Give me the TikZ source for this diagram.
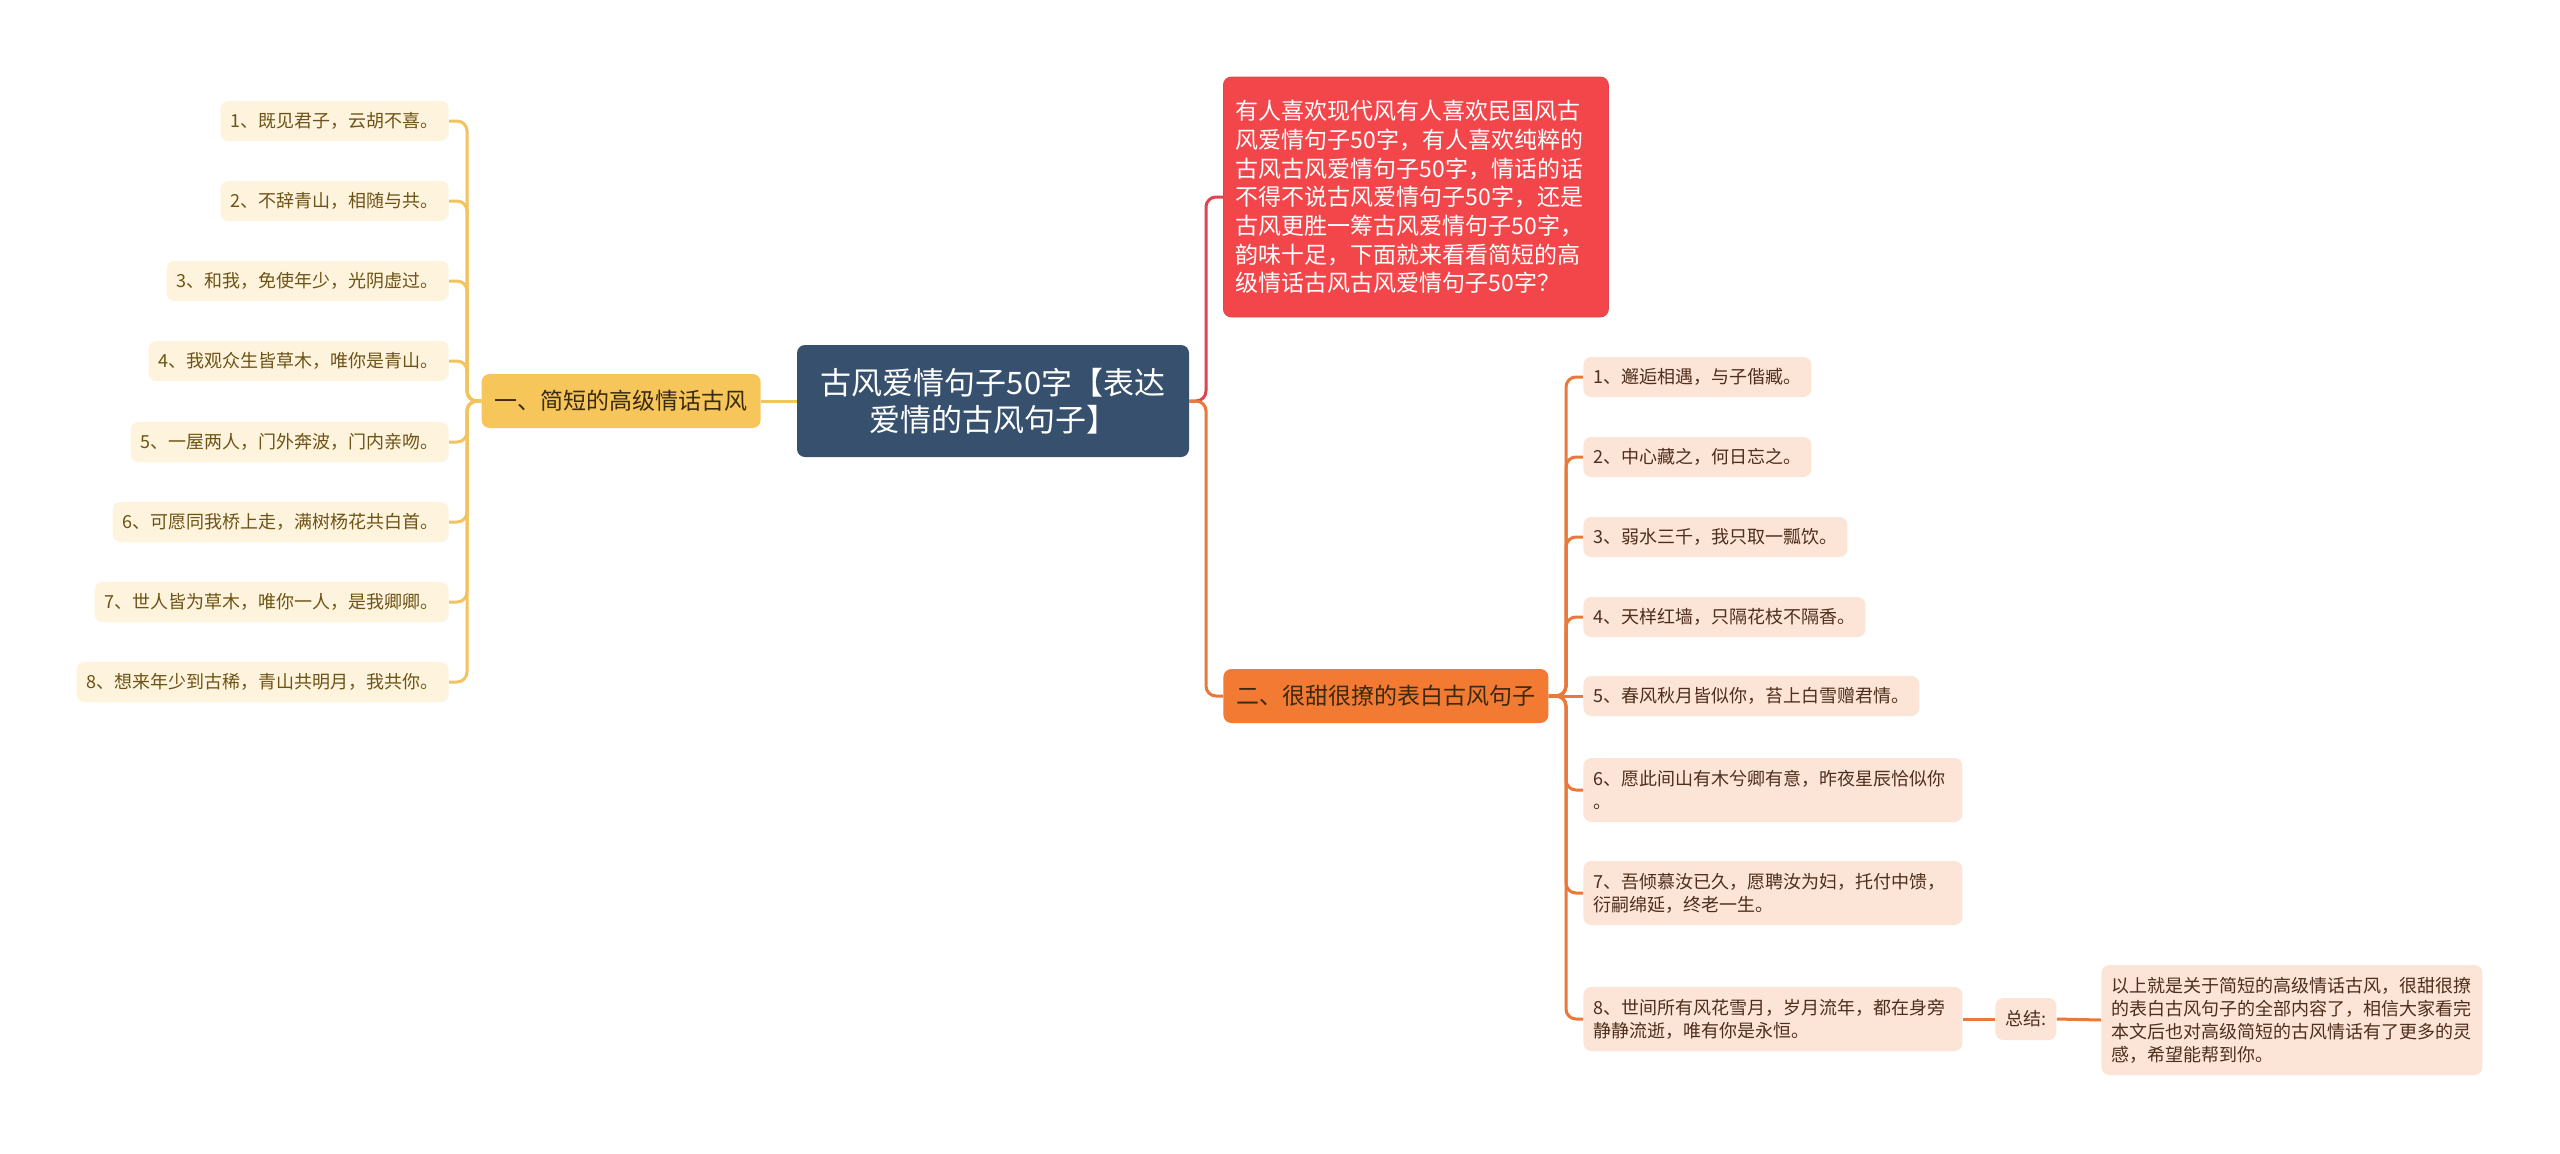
\documentclass[tikz,border=0pt]{standalone}
\usepackage{fontspec}
\setmainfont{Noto Sans CJK SC}
\definecolor{rootfill}{HTML}{37506D}
\definecolor{yfill}{HTML}{F6C65A}
\definecolor{ylinec}{HTML}{F2C35E}
\definecolor{yitem}{HTML}{FEF3DC}
\definecolor{ytext}{HTML}{6E5316}
\definecolor{redfill}{HTML}{F3464B}
\definecolor{redline}{HTML}{DE4550}
\definecolor{ofill}{HTML}{F27A33}
\definecolor{olinec}{HTML}{E9783A}
\definecolor{oitem}{HTML}{FCE4D6}
\definecolor{otext}{HTML}{4E2E1C}
\definecolor{btext}{HTML}{3A2A10}
\tikzset{
  box/.style={rounded corners=4pt, inner sep=0pt},
  small/.style={font=\fontsize{9}{11.5}\selectfont},
  rootbox/.style={box, fill=rootfill, text=white, align=center,
    minimum width=196pt, minimum height=56pt, font=\fontsize{15.5}{18.75}\selectfont},
  descbox/.style={box, fill=redfill, draw=redline, text=white, align=left, text width=180pt,
    inner xsep=6.25pt, minimum height=120pt, font=\fontsize{11.5}{14.35}\selectfont},
  ybranch/.style={box, fill=yfill, text=btext, inner xsep=6.5pt, minimum height=27pt,
    font=\fontsize{11.5}{14}\selectfont},
  obranch/.style={box, fill=ofill, text=btext, inner xsep=6.5pt, minimum height=27pt,
    font=\fontsize{11.5}{14}\selectfont},
  litem/.style={box, small, fill=yitem, text=ytext, inner xsep=5pt, minimum height=20pt},
  ritem/.style={box, small, fill=oitem, text=otext, inner xsep=5pt, minimum height=20pt},
  ritemw/.style={ritem, align=left, text width=179.5pt, minimum height=32pt},
  sumbox/.style={ritem, align=left, text width=180pt, inner xsep=5.25pt, minimum height=55pt},
  yconn/.style={draw=ylinec, line width=1.5pt, rounded corners=5pt},
  oconn/.style={draw=olinec, line width=1.5pt, rounded corners=5pt},
  rconn/.style={draw=redline, line width=1.5pt, rounded corners=5pt},
}
\begin{document}
\begin{tikzpicture}[x=0.5pt,y=-0.5pt]
\fill[white] (0,0) rectangle (2560,1153);
\useasboundingbox (0,0) rectangle (2560,1153);

% junction coordinates
\coordinate (lb) at (467,0);
\coordinate (rbx) at (1206,0);
\coordinate (ob) at (1566,0);

% root
\node[rootbox] (root) at (993,401) {古风爱情句子50字【表达\\爱情的古风句子】};

% left branch
\node[ybranch, anchor=east] (b1) at (761,401) {一、简短的高级情话古风};
\node[litem, anchor=east] (l1) at (449,121) {1、既见君子，云胡不喜。};
\node[litem, anchor=east] (l2) at (449,201) {2、不辞青山，相随与共。};
\node[litem, anchor=east] (l3) at (449,281) {3、和我，免使年少，光阴虚过。};
\node[litem, anchor=east] (l4) at (449,361) {4、我观众生皆草木，唯你是青山。};
\node[litem, anchor=east] (l5) at (449,442) {5、一屋两人，门外奔波，门内亲吻。};
\node[litem, anchor=east] (l6) at (449,522) {6、可愿同我桥上走，满树杨花共白首。};
\node[litem, anchor=east] (l7) at (449,602) {7、世人皆为草木，唯你一人，是我卿卿。};
\node[litem, anchor=east] (l8) at (449,682) {8、想来年少到古稀，青山共明月，我共你。};

% description
\node[descbox, anchor=west] (desc) at (1223,197) {有人喜欢现代风有人喜欢民国风古\\风爱情句子50字，有人喜欢纯粹的\\古风古风爱情句子50字，情话的话\\不得不说古风爱情句子50字，还是\\古风更胜一筹古风爱情句子50字，\\韵味十足，下面就来看看简短的高\\级情话古风古风爱情句子50字？};

% right branch
\node[obranch, anchor=west] (b2) at (1223,696) {二、很甜很撩的表白古风句子};
\node[ritem, anchor=west] (r1) at (1583,377) {1、邂逅相遇，与子偕臧。};
\node[ritem, anchor=west] (r2) at (1583,457) {2、中心藏之，何日忘之。};
\node[ritem, anchor=west] (r3) at (1583,537) {3、弱水三千，我只取一瓢饮。};
\node[ritem, anchor=west] (r4) at (1583,617) {4、天样红墙，只隔花枝不隔香。};
\node[ritem, anchor=west] (r5) at (1583,696) {5、春风秋月皆似你，苔上白雪赠君情。};
\node[ritemw, anchor=west] (r6) at (1583,790) {6、愿此间山有木兮卿有意，昨夜星辰恰似你\\。};
\node[ritemw, anchor=west] (r7) at (1583,893) {7、吾倾慕汝已久，愿聘汝为妇，托付中馈，\\衍嗣绵延，终老一生。};
\node[ritemw, anchor=west] (r8) at (1583,1019) {8、世间所有风花雪月，岁月流年，都在身旁\\静静流逝，唯有你是永恒。};
\node[ritem, anchor=west, minimum height=21pt] (zj) at (1995,1019) {总结:};
\node[sumbox, anchor=west] (sum) at (2101,1020) {以上就是关于简短的高级情话古风，很甜很撩\\的表白古风句子的全部内容了，相信大家看完\\本文后也对高级简短的古风情话有了更多的灵\\感，希望能帮到你。};

% connectors: left
\draw[yconn] (root.west) -- (b1.east);
\foreach \i in {1,...,8}{
  \draw[yconn] (b1.west) -- (lb |- b1.west) |- (l\i.east);
}
% connectors: right of root
\draw[rconn] (root.east) -- (rbx |- root.east) |- (desc.west);
\draw[oconn] (root.east) -- (rbx |- root.east) |- (b2.west);
% right branch items
\draw[oconn] (b2.east) -- (r5.west);
\foreach \i in {1,2,3,4,6,7,8}{
  \draw[oconn] (b2.east) -- (ob |- b2.east) |- (r\i.west);
}
\draw[oconn] (r8.east) -- (zj.west);
\draw[oconn] (zj.east) -- (sum.west);
\end{tikzpicture}
\end{document}
